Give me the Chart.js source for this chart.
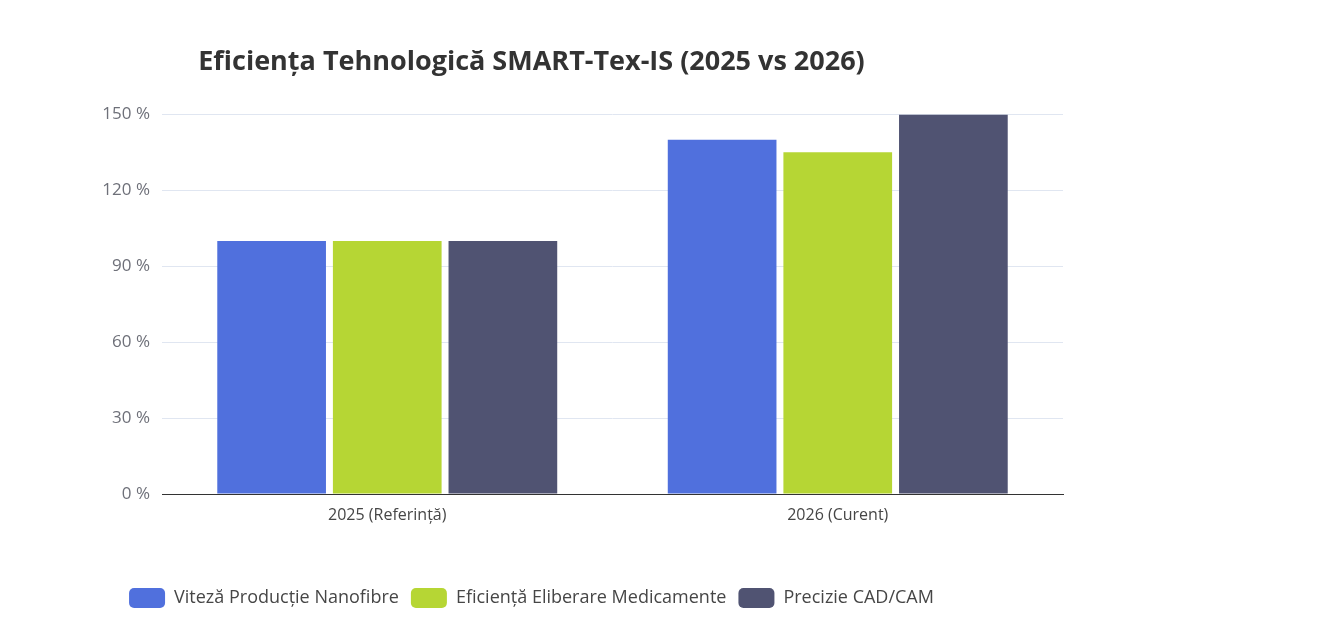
<!DOCTYPE html>
<html>
<head>
<meta charset="utf-8">
<script src="https://cdn.jsdelivr.net/npm/chart.js@4"></script>
<style>
  body { margin: 0; background: #fff; }
  #wrap { width: 1166px; height: 618px; }
</style>
</head>
<body>
<div id="wrap"><canvas id="myChart"></canvas></div>
<script>
var categories = ["2025 (Referință)", "2026 (Curent)"];
var seriesNames = ["Viteză Producție Nanofibre", "Eficiență Eliberare Medicamente", "Precizie CAD/CAM"];
var vitezaValues = [100, 140];
var eficientaValues = [100, 135];
var precizieValues = [100, 150];
var colors = ["#5070dd", "#b6d634", "#505372"];

var font = "'Open Sans', 'Noto Sans', sans-serif";
Chart.defaults.font.family = font;

const ctx = document.getElementById("myChart");

var myChart = new Chart(ctx, {
  type: "bar",
  data: {
    labels: categories,
    datasets: [
      { label: seriesNames[0], data: vitezaValues, backgroundColor: colors[0] },
      { label: seriesNames[1], data: eficientaValues, backgroundColor: colors[1] },
      { label: seriesNames[2], data: precizieValues, backgroundColor: colors[2] },
    ],
  },
  options: {
    responsive: true,
    maintainAspectRatio: false,
    animation: false,
    categoryPercentage: 0.77,
    barPercentage: 0.94,
    layout: { padding: { top: 46, right: 103, bottom: 0 } },
    plugins: {
      title: {
        display: true,
        text: "Eficiența Tehnologică SMART-Tex-IS (2025 vs 2026)",
        color: "#333",
        font: { size: 27, weight: "bold" },
        padding: { top: 0, bottom: 36 },
      },
      legend: {
        position: "bottom",
        labels: {
          color: "#464646",
          font: { size: 18 },
          boxWidth: 36,
          boxHeight: 20,
          useBorderRadius: true,
          borderRadius: 5,
          padding: 12,
        },
      },
      tooltip: { enabled: false },
    },
    scales: {
      x: {
        grid: { display: false, drawTicks: true },
        border: { color: "#333", width: 1 },
        ticks: { color: "#464646", font: { size: 16 }, padding: 4 },
        afterFit: function (s) { s.height = 82; },
      },
      y: {
        min: 0,
        max: 150,
        ticks: {
          stepSize: 30,
          color: "#6e7079",
          font: { size: 17 },
          padding: 12,
          callback: function (v) { return v + " %"; },
        },
        grid: { color: "#e0e6f1", drawTicks: false },
        border: { display: false },
        afterFit: function (s) { s.width = 162; },
      },
    },
  },
});
</script>
</body>
</html>
